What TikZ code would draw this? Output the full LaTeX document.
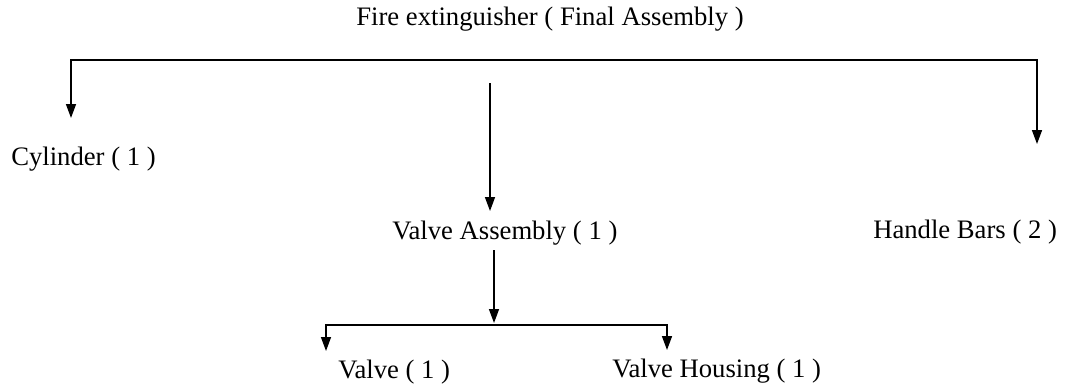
\documentclass[tikz,border=0pt]{standalone}
\usepackage{fontspec}
\setmainfont{Liberation Serif}
\usetikzlibrary{arrows.meta}
\begin{document}
\begin{tikzpicture}[x=0.75pt,y=-0.75pt,
  >={Triangle[length=10.5pt,width=7.5pt]},
  lbl/.style={anchor=base west,inner sep=0pt,font=\fontsize{20}{22}\selectfont},
  conn/.style={line width=1.1pt}]
\useasboundingbox (0,0) rectangle (1070,389);
% labels
\node[lbl,anchor=base] (top) at (550,25) {Fire extinguisher ( Final Assembly )};
\node[lbl] (cyl) at (11,165) {Cylinder ( 1 )};
\node[lbl] (va) at (392,239) {Valve Assembly ( 1 )};
\node[lbl] (hb) at (873,238) {Handle Bars ( 2 )};
\node[lbl] (v) at (338,378) {Valve ( 1 )};
\node[lbl] (vh) at (612,377) {Valve Housing ( 1 )};
% connector points
\coordinate (tl) at (71,60);
\coordinate (tr) at (1037,60);
\coordinate (cyltip) at (71,118);
\coordinate (hbtip) at (1037,144);
\coordinate (mid0) at (490,83);
\coordinate (midtip) at (490,211);
\coordinate (low0) at (494,250);
\coordinate (lowtip) at (494,323);
\coordinate (bl) at (326,325);
\coordinate (br) at (667,325);
\coordinate (vtip) at (326,351);
\coordinate (vhtip) at (667,350);
% connectors
\draw[conn,<->] (cyltip) -- (tl) -- (tr) -- (hbtip);
\draw[conn,->] (mid0) -- (midtip);
\draw[conn,->] (low0) -- (lowtip);
\draw[conn,<->] (vtip) -- (bl) -- (br) -- (vhtip);
\end{tikzpicture}
\end{document}
